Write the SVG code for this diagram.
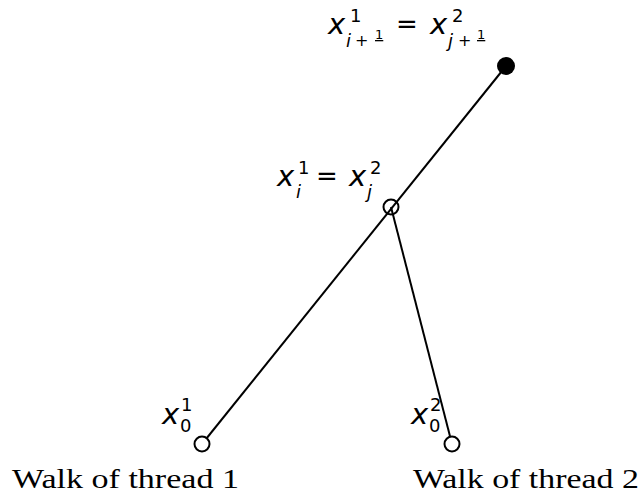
<svg xmlns="http://www.w3.org/2000/svg" width="642" height="497" viewBox="0 0 642 497">
<style>
.m{font-family:"DejaVu Sans","Noto Sans",sans-serif;fill:#000}
.v{font-style:italic;font-size:29px}
.s{font-size:18px}
.si{font-size:18px;font-style:italic}
.p{font-size:16px}
.t{font-size:13px;text-decoration:underline}
.op{font-size:26px}
.cap{font-family:"Liberation Serif","Times New Roman",serif;font-size:28px;fill:#000}
.ln{stroke:#000;stroke-width:2;fill:none}
.open{fill:#fff;stroke:#000;stroke-width:2}
</style>
<rect width="642" height="497" fill="#fff"/>
<g id="connectors">
<line class="ln" x1="202" y1="444" x2="506" y2="66"/>
<line class="ln" x1="391" y1="207" x2="452" y2="444"/>
</g>
<g id="node-top">
<circle cx="506" cy="66" r="9" fill="#000"/>
<text class="m"><tspan class="v" x="328" y="34">x</tspan><tspan class="s" x="350" y="22">1</tspan><tspan class="si" x="346" y="47">i</tspan><tspan class="p" x="355" y="46">+</tspan><tspan class="t" x="375" y="39">1</tspan><tspan class="op" x="396" y="33">=</tspan><tspan class="v" x="430" y="34">x</tspan><tspan class="s" x="452" y="22">2</tspan><tspan class="si" x="448" y="47">j</tspan><tspan class="p" x="458" y="46">+</tspan><tspan class="t" x="477" y="39">1</tspan></text>
</g>
<g id="node-mid">
<circle class="open" cx="391" cy="207" r="7.5" style="fill:none"/>
<text class="m"><tspan class="v" x="277" y="186">x</tspan><tspan class="s" x="298" y="174">1</tspan><tspan class="si" x="296" y="198">i</tspan><tspan class="op" x="316" y="185">=</tspan><tspan class="v" x="349" y="186">x</tspan><tspan class="s" x="370" y="174">2</tspan><tspan class="si" x="367" y="198">j</tspan></text>
</g>
<g id="node-start1">
<circle class="open" cx="202" cy="444" r="7.5"/>
<text class="m"><tspan class="v" x="162" y="424">x</tspan><tspan class="s" x="181" y="411">1</tspan><tspan class="s" x="180" y="432">0</tspan></text>
</g>
<g id="node-start2">
<circle class="open" cx="452" cy="444" r="7.5"/>
<text class="m"><tspan class="v" x="411" y="424">x</tspan><tspan class="s" x="430" y="411">2</tspan><tspan class="s" x="429" y="432">0</tspan></text>
</g>
<g id="captions">
<text class="cap" x="12" y="488" textLength="227" lengthAdjust="spacingAndGlyphs">Walk of thread 1</text>
<text class="cap" x="413" y="488" textLength="226" lengthAdjust="spacingAndGlyphs">Walk of thread 2</text>
</g>
</svg>
